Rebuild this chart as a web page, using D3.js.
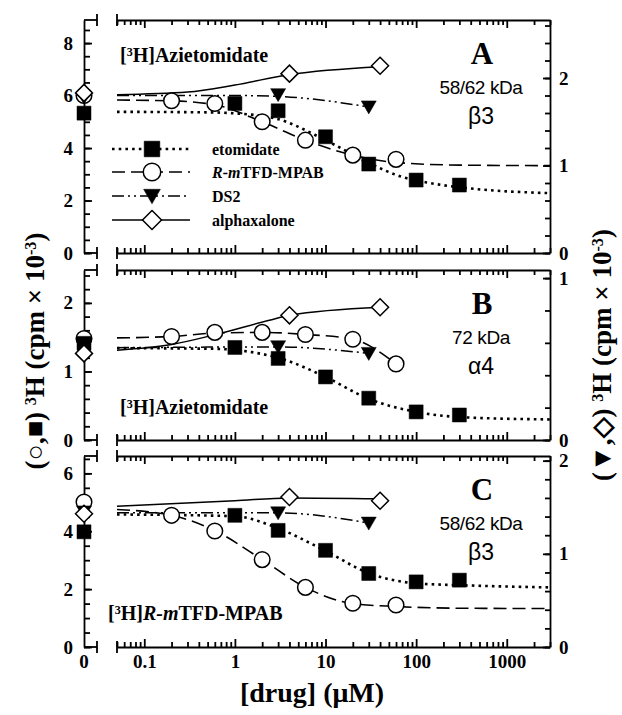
<!DOCTYPE html>
<html>
<head>
<meta charset="utf-8">
<script src="https://cdn.jsdelivr.net/npm/d3@7"></script>
<style>
  body { margin: 0; background: #fff; }
  text { font-family: "Liberation Serif", "Times New Roman", serif; font-weight: bold; fill: #000; }
  .sans { font-family: "Liberation Sans", Arial, sans-serif; font-weight: normal; }
</style>
</head>
<body>
<svg id="chart" width="622" height="715"></svg>
<script>
// ---- data -------------------------------------------------------------
// concentrations in uM, 0 = no drug (plotted on the separate zero axis)
const concEto = [0, 1, 3, 10, 30, 100, 300];
const concR = [0, 0.2, 0.6, 2, 6, 20, 60];
const concDS2 = [0, 3, 30];
const concAlpha = [0, 4, 40];

// panel A  (etomidate / R-mTFD-MPAB on left axis, DS2 / alphaxalone on right axis)
const aEto = [5.33, 5.70, 5.42, 4.43, 3.39, 2.78, 2.59];
const aR = [6.0, 5.80, 5.70, 5.00, 4.30, 3.73, 3.57];
const aDS2 = [1.78, 1.81, 1.67];
const aAlpha = [1.83, 2.05, 2.14];

// panel B
const bEto = [1.41, 1.35, 1.19, 0.92, 0.61, 0.41, 0.365];
const bR = [1.48, 1.51, 1.57, 1.57, 1.54, 1.47, 1.11];
const bDS2 = [0.59, 0.576, 0.535];
const bAlpha = [0.535, 0.77, 0.82];

// panel C
const cEto = [3.98, 4.55, 4.03, 3.34, 2.54, 2.25, 2.31];
const cR = [5.01, 4.55, 4.01, 3.02, 2.06, 1.51, 1.45];
const cDS2 = [1.45, 1.44, 1.33];
const cAlpha = [1.43, 1.61, 1.57];

// fitted curves, [conc, value]
const aEtoFit = [[0.05, 5.38], [0.5, 5.36], [1, 5.32], [2.8, 5.13], [10, 4.3], [30, 3.43], [70, 2.9], [140, 2.67], [350, 2.48], [3000, 2.28]];
const aRFit = [[0.05, 5.83], [0.2, 5.8], [0.6, 5.65], [2, 5.0], [6, 4.3], [20, 3.73], [60, 3.45], [300, 3.35], [3000, 3.33]];
const aDS2Fit = [[0.05, 1.80], [1, 1.80], [3, 1.79], [30, 1.67]];
const aAlphaFit = [[0.05, 1.81], [0.3, 1.84], [1, 1.92], [4, 2.04], [40, 2.13]];

const bEtoFit = [[0.05, 1.34], [0.6, 1.33], [1.9, 1.26], [3, 1.2], [10, 0.92], [30, 0.6], [100, 0.41], [350, 0.33], [3000, 0.3]];
const bRFit = [[0.05, 1.49], [0.2, 1.51], [0.6, 1.56], [2, 1.57], [6, 1.54], [20, 1.47], [60, 1.11]];
const bDS2Fit = [[0.05, 0.57], [3, 0.575], [30, 0.535]];
const bAlphaFit = [[0.05, 0.555], [0.2, 0.59], [0.6, 0.65], [2.4, 0.74], [4, 0.77], [40, 0.82]];

const cEtoFit = [[0.05, 4.58], [1, 4.52], [3, 4.1], [10, 3.32], [30, 2.55], [100, 2.2], [350, 2.13], [3000, 2.06]];
const cRFit = [[0.05, 4.75], [0.2, 4.55], [0.6, 4.02], [2, 3.02], [6, 2.06], [20, 1.5], [60, 1.4], [300, 1.34], [3000, 1.33]];
const cDS2Fit = [[0.05, 1.44], [3, 1.44], [30, 1.33]];
const cAlphaFit = [[0.05, 1.51], [1, 1.57], [4, 1.6], [40, 1.59]];

// axes
const leftMax = [8.88, 2.48, 6.6];
const rightMax = [2.663, 1.05, 2.05];
const leftTicks = [[0, 2, 4, 6, 8], [0, 1, 2], [0, 2, 4, 6]];
const leftMinorStep = [0.5, 0.2, 0.5];
const rightTicks = [[0, 1, 2], [0, 1], [0, 1, 2]];
const xTicks = [0.1, 1, 10, 100, 1000];

// panel texts
const panelLetters = ['A', 'B', 'C'];
const panelKda = ['58/62 kDa', '72 kDa', '58/62 kDa'];
const panelSubunit = ['β3', 'α4', 'β3'];
const legendNames = ['etomidate', 'R-mTFD-MPAB', 'DS2', 'alphaxalone'];

// ---- layout -----------------------------------------------------------
const svg = d3.select('#chart');
const zeroX = 84;
const breakX = 97;
const x = d3.scaleLog().domain([0.05, 3000]).range([117, 550]);
const xPos = (c) => (c === 0 ? zeroX : x(c));

const panelTop = [20, 270, 456];
const panelBottom = [253, 440, 647];

// series styles: line dash, width, marker, which y axis
const styles = {
  eto: { dash: '2.6,4.1', width: 2.6, marker: 'square', axis: 'left' },
  r: { dash: '13,6', width: 1.6, marker: 'circle', axis: 'left' },
  ds2: { dash: '12,4,2,4,2,4', width: 1.5, marker: 'triangle', axis: 'right' },
  alpha: { dash: null, width: 1.5, marker: 'diamond', axis: 'right' },
};

// marker paths centred on 0,0
const markerPath = (type, s = 1) => {
  if (type === 'square') return `M${-7 * s},${-7 * s}h${14 * s}v${14 * s}h${-14 * s}Z`;
  if (type === 'triangle') return `M${-7.5 * s},${-6 * s}L${7.5 * s},${-6 * s}L0,${7 * s}Z`;
  if (type === 'diamond') return `M0,${-8.5 * s}L${8.5 * s},0L0,${8.5 * s}L${-8.5 * s},0Z`;
  const r = 7.8 * s;
  return `M${r},0A${r},${r} 0 1,1 ${-r},0A${r},${r} 0 1,1 ${r},0Z`;
};

const drawMarker = (g, type, cx, cy, s = 1) => {
  const filled = type === 'square' || type === 'triangle';
  g.append('path')
    .attr('d', markerPath(type, s))
    .attr('transform', `translate(${cx},${cy})`)
    .attr('fill', filled ? '#000' : '#fff')
    .attr('stroke', '#000')
    .attr('stroke-width', filled ? 0.5 : 1.5);
};

// superscript helper
const sup = (text, s) =>
  text.append('tspan').attr('font-size', '0.6em').attr('dy', '-0.5em').text(s);
const down = (text, s) => text.append('tspan').attr('dy', '0.3em').text(s);

const panelData = [
  { eto: aEto, r: aR, ds2: aDS2, alpha: aAlpha,
    fits: { eto: aEtoFit, r: aRFit, ds2: aDS2Fit, alpha: aAlphaFit } },
  { eto: bEto, r: bR, ds2: bDS2, alpha: bAlpha,
    fits: { eto: bEtoFit, r: bRFit, ds2: bDS2Fit, alpha: bAlphaFit } },
  { eto: cEto, r: cR, ds2: cDS2, alpha: cAlpha,
    fits: { eto: cEtoFit, r: cRFit, ds2: cDS2Fit, alpha: cAlphaFit } },
];
const concOf = { eto: concEto, r: concR, ds2: concDS2, alpha: concAlpha };

const styleAxis = (g, fontSize = 19) => {
  g.attr('font-family', null).attr('font-size', fontSize);
  g.selectAll('.domain, .tick line').attr('stroke-width', 1.8);
  g.selectAll('text').attr('font-size', fontSize);
};

const xMinor = x.ticks().filter((v) => !xTicks.includes(v));

panelData.forEach((pd, i) => {
  const top = panelTop[i];
  const bottom = panelBottom[i];
  const yL = d3.scaleLinear().domain([0, leftMax[i]]).range([bottom, top]);
  const yR = d3.scaleLinear().domain([0, rightMax[i]]).range([bottom, top]);
  const g = svg.append('g');

  // bottom x axis (ticks inward), labels only on the last panel
  const bx = g.append('g').attr('transform', `translate(0,${bottom})`)
    .call(d3.axisBottom(x).tickValues(xTicks).tickSize(-8).tickSizeOuter(0).tickPadding(8)
      .tickFormat(i === 2 ? d3.format('~g') : ''));
  styleAxis(bx);
  g.append('g').attr('transform', `translate(0,${bottom})`)
    .call(d3.axisBottom(x).tickValues(xMinor).tickSize(-5).tickFormat(''))
    .call((a) => a.select('.domain').remove())
    .call(styleAxis);

  // top x axis
  const tx = g.append('g').attr('transform', `translate(0,${top})`)
    .call(d3.axisTop(x).tickValues(xTicks).tickSize(-8).tickSizeOuter(0).tickFormat(''));
  styleAxis(tx);
  g.append('g').attr('transform', `translate(0,${top})`)
    .call(d3.axisTop(x).tickValues(xMinor).tickSize(-5).tickFormat(''))
    .call((a) => a.select('.domain').remove())
    .call(styleAxis);

  // right axis
  const ry = g.append('g').attr('transform', 'translate(550,0)')
    .call(d3.axisRight(yR).tickValues(rightTicks[i]).tickSize(-7).tickSizeOuter(0).tickPadding(9)
      .tickFormat(d3.format('d')));
  styleAxis(ry);
  g.append('g').attr('transform', 'translate(550,0)')
    .call(d3.axisRight(yR).tickValues(d3.range(0, rightMax[i] + 1e-9, 0.2)).tickSize(-5).tickFormat(''))
    .call((a) => a.select('.domain').remove())
    .call(styleAxis);

  // left zero axis
  const ly = g.append('g').attr('transform', `translate(${zeroX},0)`)
    .call(d3.axisLeft(yL).tickValues(leftTicks[i]).tickSize(-8).tickSizeOuter(0).tickPadding(11)
      .tickFormat(d3.format('d')));
  styleAxis(ly);
  g.append('g').attr('transform', `translate(${zeroX},0)`)
    .call(d3.axisLeft(yL).tickValues(d3.range(0, leftMax[i] + 1e-9, leftMinorStep[i])).tickSize(-6).tickFormat(''))
    .call((a) => a.select('.domain').remove())
    .call(styleAxis);

  // stubs and break marks
  [top, bottom].forEach((yy) => {
    g.append('line').attr('x1', zeroX).attr('x2', breakX).attr('y1', yy).attr('y2', yy)
      .attr('stroke', '#000').attr('stroke-width', 1.8);
    [breakX, 117].forEach((bx0) => {
      g.append('line').attr('x1', bx0).attr('x2', bx0).attr('y1', yy - 6).attr('y2', yy + 6)
        .attr('stroke', '#000').attr('stroke-width', 1.8);
    });
  });

  // fit lines
  Object.keys(styles).forEach((key) => {
    const st = styles[key];
    const yS = st.axis === 'left' ? yL : yR;
    const line = d3.line().x((d) => x(d[0])).y((d) => yS(d[1])).curve(d3.curveMonotoneX);
    g.append('path')
      .attr('d', line(pd.fits[key]))
      .attr('fill', 'none')
      .attr('stroke', '#000')
      .attr('stroke-width', st.width)
      .attr('stroke-dasharray', st.dash);
  });

  // markers (circles first, then squares, triangles, diamonds)
  ['r', 'eto', 'ds2', 'alpha'].forEach((key) => {
    const st = styles[key];
    const yS = st.axis === 'left' ? yL : yR;
    pd[key].forEach((v, j) => drawMarker(g, st.marker, xPos(concOf[key][j]), yS(v)));
  });

  // panel annotations
  g.append('text').attr('x', 482).attr('y', top + 44).attr('text-anchor', 'middle')
    .attr('font-size', 31).text(panelLetters[i]);
  g.append('text').attr('class', 'sans').attr('x', 481).attr('y', top + 74).attr('text-anchor', 'middle')
    .attr('font-size', 19).attr('letter-spacing', -0.4).text(panelKda[i]);
  g.append('text').attr('class', 'sans').attr('x', 481).attr('y', top + 104).attr('text-anchor', 'middle')
    .attr('font-size', 23).text(panelSubunit[i]);
});

// radioligand labels
const ligandA = svg.append('text').attr('x', 120).attr('y', 62).attr('font-size', 20);
ligandA.append('tspan').text('[');
sup(ligandA, '3');
down(ligandA, 'H]Azietomidate');

const ligandB = svg.append('text').attr('x', 120).attr('y', 414).attr('font-size', 20);
ligandB.append('tspan').text('[');
sup(ligandB, '3');
down(ligandB, 'H]Azietomidate');

const ligandC = svg.append('text').attr('x', 108).attr('y', 620).attr('font-size', 20);
ligandC.append('tspan').text('[');
sup(ligandC, '3');
down(ligandC, 'H]');
ligandC.append('tspan').attr('font-style', 'italic').text('R-m');
ligandC.append('tspan').text('TFD-MPAB');

// legend in panel A
const legendRows = [149, 172, 196, 220];
['eto', 'r', 'ds2', 'alpha'].forEach((key, k) => {
  const st = styles[key];
  const ly = legendRows[k];
  const lg = svg.append('g');
  lg.append('line').attr('x1', 112).attr('x2', 190).attr('y1', ly).attr('y2', ly)
    .attr('stroke', '#000').attr('stroke-width', st.width).attr('stroke-dasharray', st.dash);
  drawMarker(lg, st.marker, 152, ly, 1.12);
  const t = lg.append('text').attr('x', 212).attr('y', ly + 6).attr('font-size', 16);
  if (key === 'r') {
    t.append('tspan').attr('font-style', 'italic').text('R-m');
    t.append('tspan').text('TFD-MPAB');
  } else {
    t.text(legendNames[k]);
  }
});

// zero label on x axis
svg.append('text').attr('x', zeroX).attr('y', 668).attr('text-anchor', 'middle')
  .attr('font-size', 19).text('0');

// x axis title
const xTitle = svg.append('text').attr('x', 312).attr('y', 702).attr('text-anchor', 'middle')
  .attr('font-size', 28);
xTitle.text('[drug] (μM)');

// y axis titles
const yTitle = (tx, ty, marks) => {
  const t = svg.append('text')
    .attr('transform', `translate(${tx},${ty}) rotate(-90)`)
    .attr('text-anchor', 'middle')
    .attr('font-size', 27);
  t.append('tspan').text(`(${marks}) `);
  sup(t, '3');
  down(t, 'H (cpm × 10');
  sup(t, '-3');
  down(t, ')');
};
yTitle(44, 351, '○,■');
yTitle(611, 355, '▼,◇');
</script>
</body>
</html>
